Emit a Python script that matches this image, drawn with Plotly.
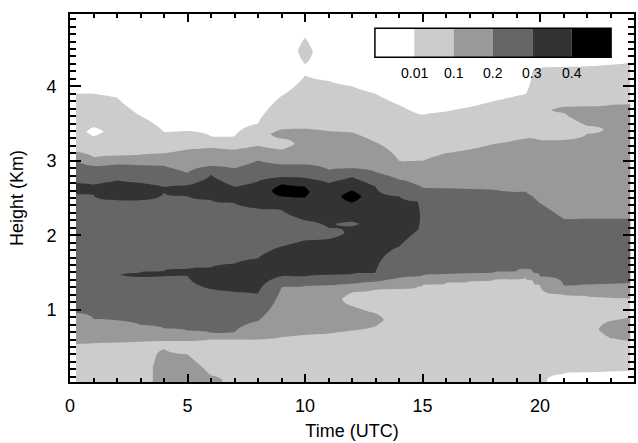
import numpy as np
import plotly.graph_objects as go

# ---------------- data ----------------
levels = [0.01, 0.1, 0.2, 0.3, 0.4]
level_labels = ["0.01", "0.1", "0.2", "0.3", "0.4"]
band_colors = ["#ffffff", "#cccccc", "#999999", "#666666", "#333333", "#000000"]

# representative value of each layer class
W, L, M, D, K, B = 0.0, 0.05, 0.15, 0.25, 0.35, 0.45

# time columns (UTC hours)
times = [0.25, 1, 2, 3, 4, 5, 6, 7, 8, 9, 10, 11, 12, 13, 14, 14.8,
         15, 16, 17, 18, 19, 19.4, 19.7, 20, 21, 22, 23, 23.85]

# vertical layering of each time column: (layer value, layer top height km), bottom to top
profiles = [
    [(L, 0.54), (M, 0.96), (D, 2.57), (K, 2.70), (D, 3.01), (M, 3.12), (L, 3.90), (W, 5)],
    [(L, 0.55), (M, 0.88), (D, 2.54), (K, 2.68), (D, 2.93), (M, 3.05), (L, 3.33), (0.006, 3.45), (L, 3.90), (W, 5)],
    [(L, 0.56), (M, 0.86), (D, 1.41), (0.29, 1.53), (D, 2.47), (K, 2.73), (D, 2.95), (M, 3.07), (L, 3.85), (W, 5)],
    [(L, 0.57), (M, 0.80), (D, 1.44), (K, 1.50), (D, 2.47), (K, 2.70), (D, 2.94), (M, 3.08), (L, 3.60), (W, 5)],
    [(M, 0.47), (L, 0.58), (M, 0.75), (D, 1.45), (K, 1.52), (D, 2.57), (K, 2.65), (D, 2.93), (M, 3.10), (L, 3.39), (W, 5)],
    [(M, 0.40), (L, 0.58), (M, 0.72), (D, 1.45), (K, 1.55), (D, 2.52), (K, 2.67), (D, 2.84), (M, 3.15), (L, 3.40), (W, 5)],
    [(M, 0.12), (L, 0.60), (M, 0.69), (D, 1.28), (K, 1.57), (D, 2.47), (K, 2.81), (D, 2.93), (M, 3.17), (L, 3.33), (W, 5)],
    [(L, 0.60), (M, 0.70), (D, 1.24), (K, 1.62), (D, 2.43), (K, 2.65), (D, 2.90), (M, 3.15), (L, 3.33), (W, 5)],
    [(L, 0.60), (M, 0.85), (D, 1.22), (K, 1.69), (D, 2.36), (K, 2.72), (D, 3.00), (M, 3.20), (L, 3.50), (W, 5)],
    [(L, 0.63), (M, 1.30), (D, 1.45), (K, 1.85), (D, 2.34), (K, 2.52), (B, 2.68), (K, 2.78), (D, 2.95), (M, 3.15),
     (L, 3.30), (M, 3.42), (L, 3.87), (W, 5)],
    [(L, 0.66), (M, 1.32), (D, 1.45), (K, 1.93), (D, 2.20), (K, 2.51), (0.42, 2.65), (K, 2.77), (D, 2.95), (M, 3.43),
     (L, 4.14), (W, 4.30), (L, 4.65), (W, 5)],
    [(L, 0.68), (M, 1.33), (D, 1.47), (K, 1.95), (0.27, 2.10), (K, 2.70), (D, 2.88), (M, 3.40), (L, 4.07), (W, 5)],
    [(L, 0.72), (M, 1.05), (L, 1.23), (M, 1.35), (D, 1.48), (K, 2.12), (0.28, 2.18), (K, 2.44), (0.46, 2.60), (K, 2.78),
     (D, 2.90), (M, 3.38), (L, 4.00), (W, 5)],
    [(L, 0.78), (0.12, 0.95), (L, 1.27), (M, 1.38), (D, 1.50), (K, 2.65), (D, 2.85), (M, 3.25), (L, 3.90), (W, 5)],
    [(L, 1.28), (M, 1.43), (D, 1.85), (K, 2.52), (D, 2.75), (M, 3.00), (L, 3.75), (W, 5)],
    [(L, 1.31), (M, 1.45), (D, 2.07), (0.37, 2.45), (D, 2.67), (M, 3.00), (L, 3.63), (W, 5)],
    [(L, 1.33), (M, 1.46), (D, 2.64), (M, 3.00), (L, 3.62), (W, 5)],
    [(L, 1.36), (M, 1.48), (D, 2.63), (M, 3.10), (L, 3.66), (W, 5)],
    [(L, 1.38), (M, 1.49), (D, 2.62), (M, 3.15), (L, 3.72), (W, 5)],
    [(L, 1.40), (M, 1.50), (D, 2.61), (M, 3.22), (L, 3.80), (W, 5)],
    [(L, 1.41), (M, 1.52), (D, 2.58), (M, 3.28), (L, 3.87), (W, 5)],
    [(L, 1.43), (M, 1.55), (D, 2.58), (M, 3.30), (L, 3.90), (W, 5)],
    [(L, 1.39), (M, 1.50), (D, 2.52), (M, 3.30), (L, 4.22), (W, 5)],
    [(L, 1.33), (M, 1.45), (D, 2.43), (M, 3.28), (L, 4.25), (W, 5)],
    [(W, 0.14), (L, 1.20), (M, 1.33), (D, 2.22), (M, 3.28), (L, 3.64), (M, 3.72), (L, 4.26), (W, 5)],
    [(W, 0.16), (L, 1.18), (M, 1.34), (D, 2.22), (M, 3.36), (L, 3.47), (M, 3.73), (L, 4.27), (W, 5)],
    [(W, 0.17), (L, 0.62), (M, 0.85), (L, 1.16), (M, 1.35), (D, 2.22), (M, 3.75), (L, 4.29), (W, 5)],
    [(W, 0.18), (L, 0.58), (M, 0.90), (L, 1.15), (M, 1.36), (D, 2.22), (M, 3.76), (L, 4.32), (W, 5)],
]

# ---------------- build the grid the contour trace needs ----------------
H_TOP = 5.0
heights = np.round(np.arange(0.0, H_TOP + 1e-9, 0.01), 3)


def boundary_value(a, b):
    lo, hi = min(a, b), max(a, b)
    inside = [lv for lv in levels if lo < lv < hi]
    if inside:
        return float(np.mean(inside))
    return 0.5 * (a + b)


cols = []
for prof in profiles:
    kh, kv = [0.0], [prof[0][0]]
    bottom = 0.0
    for i, (v, top) in enumerate(prof):
        kh.append(0.5 * (bottom + top))
        kv.append(v)
        if i < len(prof) - 1:
            kh.append(top)
            kv.append(boundary_value(v, prof[i + 1][0]))
        bottom = top
    kh.append(H_TOP)
    kv.append(prof[-1][0])
    cols.append(np.interp(heights, kh, kv))
z = np.array(cols).T

# map values onto equally spaced level index space (levels are not uniform)
edges = [0.0] + levels + [0.5]
z_idx = np.interp(z, edges, list(range(len(edges))))

colorscale = [[i / (len(band_colors) - 1), c] for i, c in enumerate(band_colors)]

FONT = "Liberation Sans, Arial, Helvetica, sans-serif"

fig = go.Figure()
fig.add_trace(go.Contour(
    x=times, y=heights, z=z_idx,
    autocontour=False,
    contours=dict(start=1, end=len(levels), size=1, coloring="fill", showlines=False),
    colorscale=colorscale,
    line=dict(width=0),
    showscale=False,
    hoverinfo="skip",
))

W_PX, H_PX = 638, 443
ML, MR, MT, MB = 70, 2, 14, 61
pw, ph = W_PX - ML - MR, H_PX - MT - MB


def px_x(x):
    return (x - ML) / pw


def px_y(y):
    return (H_PX - MB - y) / ph


# legend box (level key) in the upper right
box_l, box_r, box_t, box_b = 376, 613, 28.3, 57.3
n = len(band_colors)
cw = (box_r - box_l) / n
shapes = []
for i, c in enumerate(band_colors):
    shapes.append(dict(type="rect", xref="paper", yref="paper",
                       x0=px_x(box_l + i * cw), x1=px_x(box_l + (i + 1) * cw),
                       y0=px_y(box_b), y1=px_y(box_t),
                       fillcolor=c, line=dict(width=0), layer="above"))
shapes.append(dict(type="rect", xref="paper", yref="paper",
                   x0=px_x(box_l), x1=px_x(box_r), y0=px_y(box_b), y1=px_y(box_t),
                   fillcolor="rgba(0,0,0,0)", line=dict(color="black", width=1.5), layer="above"))
annotations = []
for i, lab in enumerate(level_labels):
    annotations.append(dict(xref="paper", yref="paper", x=px_x(box_l + (i + 1) * cw), y=px_y(73.3),
                            text=lab, showarrow=False, xanchor="center", yanchor="middle",
                            font=dict(family=FONT, size=14, color="black")))

axis_common = dict(showgrid=False, zeroline=False, showline=True, linecolor="black", linewidth=2,
                   mirror="allticks", ticks="inside", tickwidth=1.5, tickcolor="black",
                   tickfont=dict(family=FONT, size=18, color="black"))

fig.update_layout(
    width=W_PX, height=H_PX,
    margin=dict(l=ML, r=MR, t=MT, b=MB),
    paper_bgcolor="white", plot_bgcolor="white",
    showlegend=False,
    shapes=shapes, annotations=annotations,
    xaxis=dict(range=[0, 24], tick0=0, dtick=5, ticklen=8,
               minor=dict(dtick=1, ticklen=4, ticks="inside", tickwidth=1.5, tickcolor="black"),
               title=dict(text="Time (UTC)", font=dict(family=FONT, size=18, color="black"), standoff=10),
               ticklabelstandoff=6,
               **axis_common),
    yaxis=dict(range=[0.03, 4.97], tick0=0, dtick=1, ticklen=11,
               minor=dict(dtick=0.1, ticklen=6, ticks="inside", tickwidth=1.5, tickcolor="black"),
               title=dict(text="Height (Km)", font=dict(family=FONT, size=18, color="black"), standoff=18),
               ticklabelstandoff=8,
               **axis_common),
)

fig.write_html("out.html")
